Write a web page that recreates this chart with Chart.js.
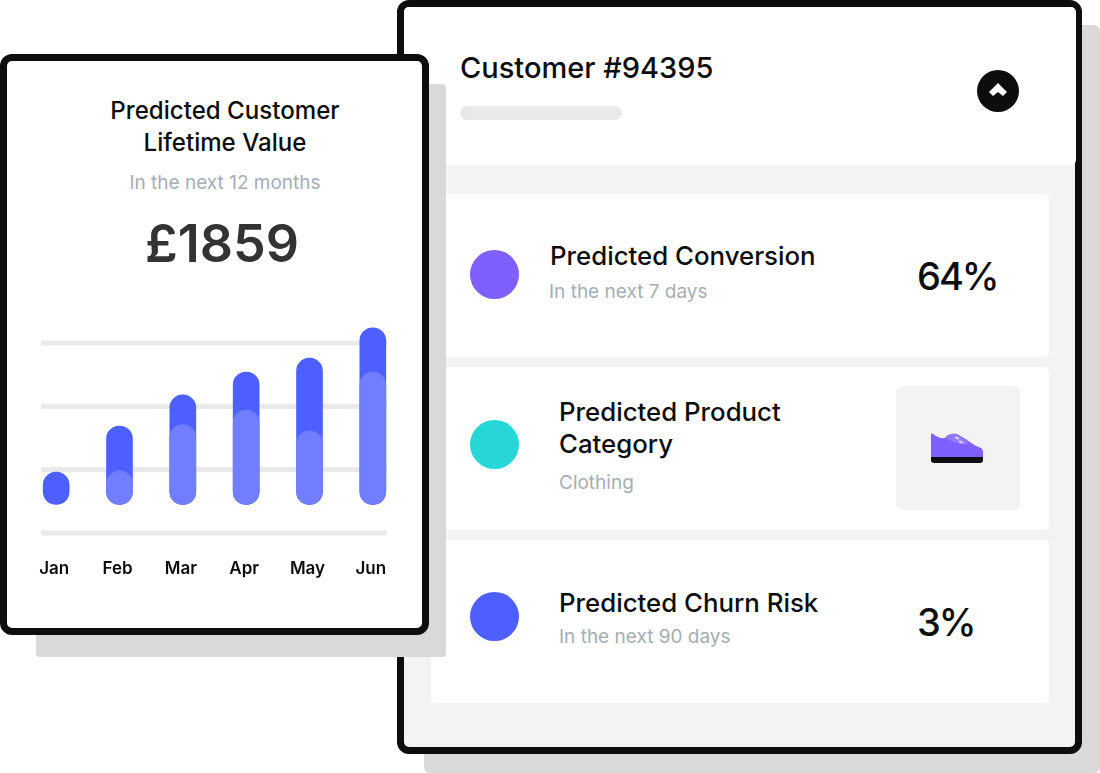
<!DOCTYPE html>
<html>
<head>
<meta charset="utf-8">
<script src="https://cdn.jsdelivr.net/npm/chart.js@4"></script>
<style>
    html, body { margin: 0; padding: 0; background: #fff; }
    body { position: relative; width: 1100px; height: 773px; overflow: hidden; font-family: Inter, "Noto Sans", sans-serif; color: #0d0d0d; }
    .box { position: absolute; box-sizing: border-box; }
    .txt { position: absolute; white-space: nowrap; line-height: 32px; height: 32px; font-weight: 500; }
    .big { font-size: 25.8px; }
    .sub { font-size: 19px; color: #a6adb5; font-weight: 400; }
    .pct { font-size: 38px; letter-spacing: -2px; }
    .dot { width: 49px; height: 49px; border-radius: 50%; left: 470px; }
    .row { left: 431px; width: 618px; height: 163px; background: #fff; border-radius: 5px; }
    #chartCanvas { position: absolute; left: 0; top: 310px; }
</style>
</head>
<body>
    <!-- right card -->
    <div class="box" style="left:424px;top:25px;width:676px;height:748px;background:#d9d9d9;border-radius:6px"></div>
    <div class="box" style="left:397px;top:0;width:685px;height:754px;background:#f3f3f3;border:7px solid #0d0d0d;border-radius:12px"></div>
    <div class="box" style="left:404px;top:7px;width:672px;height:158px;background:#fff;border-radius:5px"></div>
    <div class="box row" style="top:194px"></div>
    <div class="box row" style="top:367px"></div>
    <div class="box row" style="top:540px"></div>

    <div class="txt" style="left:460px;top:52px;font-size:29px;line-height:32px">Customer #94395</div>
    <div class="box" style="left:460px;top:106px;width:162px;height:14px;background:#e9e9e9;border-radius:7px"></div>
    <div class="box" style="left:977px;top:70px;width:42px;height:42px;background:#0d0d0d;border-radius:50%"></div>
    <svg class="box" style="left:989px;top:82px" width="18" height="16" viewBox="0 0 18 16">
        <path d="M9 1 L18 10 L14 14 L9 10 L4 14 L0 10 Z" fill="#fff"/>
    </svg>

    <div class="box dot" style="top:250px;background:#7f5fff"></div>
    <div class="txt big" style="left:550px;top:240px">Predicted Conversion</div>
    <div class="txt sub" style="left:549px;top:276px">In the next 7 days</div>
    <div class="txt pct" style="left:917px;top:260px">64%</div>

    <div class="box dot" style="top:420px;background:#27d7d7"></div>
    <div class="txt big" style="left:559px;top:396px">Predicted Product</div>
    <div class="txt big" style="left:559px;top:428px">Category</div>
    <div class="txt sub" style="left:559px;top:467px">Clothing</div>
    <div class="box" style="left:896px;top:386px;width:124px;height:124px;background:#f3f3f3;border-radius:6px"></div>
    <svg class="box" style="left:931px;top:433px" width="52" height="31" viewBox="0 0 52 31">
        <path d="M0 1 Q1 0 2 1 Q8 6 14 5 Q18 0 26 1 L36 7 Q44 13 50 15 Q52 16 52 19 L52 24 L0 24 Z" fill="#7f5fff"/>
        <path d="M14 5 Q18 0 26 1 L36 7 L38 11 Q26 12 14 5 Z" fill="#9478ff"/>
        <path d="M0 24 H52 V27 Q52 30 49 30 H3 Q0 30 0 27 Z" fill="#0d0d0d"/>
        <path d="M24 4 L28 6 M28 8 L32 10" stroke="#d6c9ff" stroke-width="2" fill="none"/>
    </svg>

    <div class="box dot" style="top:592px;background:#4d60ff"></div>
    <div class="txt big" style="left:559px;top:587px">Predicted Churn Risk</div>
    <div class="txt sub" style="left:559px;top:621px">In the next 90 days</div>
    <div class="txt pct" style="left:917px;top:606px">3%</div>

    <!-- left card -->
    <div class="box" style="left:36px;top:84px;width:410px;height:573px;background:#d9d9d9;border-radius:4px"></div>
    <div class="box" style="left:0;top:54px;width:429px;height:581px;background:#fff;border:7px solid #0d0d0d;border-radius:12px"></div>
    <div class="txt" style="left:0;width:450px;text-align:center;top:95px;font-size:24.100px">Predicted Customer</div>
    <div class="txt" style="left:0;width:450px;text-align:center;top:127px;font-size:24.100px">Lifetime Value</div>
    <div class="txt sub" style="left:0;width:450px;text-align:center;top:167px">In the next 12 months</div>
    <div class="txt" style="left:0;width:444px;text-align:center;top:228px;font-size:52px;font-weight:600;color:#333">£1859</div>
    <canvas id="chartCanvas" width="429" height="297"></canvas>

<script>
    const months = ["Jan", "Feb", "Mar", "Apr", "May", "Jun"];
    const barBase = [45, 45, 45, 45, 45, 45];
    const darkTops = [96, 169, 218, 254, 276, 324];
    const lightTops = [null, 98, 171, 194, 161, 254];
    const gridValues = [0, 100, 200, 300];

    const shortGrid = {
        id: "shortGrid",
        beforeDatasetsDraw(chart) {
            const { ctx, scales: { y } } = chart;
            ctx.save();
            ctx.fillStyle = "#e9e9e9";
            gridValues.forEach(v => ctx.fillRect(41, y.getPixelForValue(v) - 2.5, 346, 5));
            ctx.restore();
        }
    };

    const toRange = tops => tops.map((t, i) => t === null ? null : [barBase[i], t]);

    const chart = new Chart(document.getElementById("chartCanvas"), {
        type: "bar",
        data: {
            labels: months,
            datasets: [
                { data: toRange(darkTops), backgroundColor: "#4d60ff", order: 2 },
                { data: toRange(lightTops), backgroundColor: "#707eff", order: 1 }
            ].map(d => ({ ...d, barThickness: 26, borderRadius: 13, borderSkipped: false }))
        },
        options: {
            responsive: false,
            animation: false,
            layout: { padding: { left: 24.5, right: 24.5, top: 14, bottom: 0 } },
            plugins: { legend: { display: false }, tooltip: { enabled: false } },
            scales: {
                x: {
                    stacked: true,
                    grid: { display: false },
                    border: { display: false },
                    afterFit: scale => { scale.height = 74; },
                    ticks: { color: "#0d0d0d", padding: 18, labelOffset: -2, maxRotation: 0, font: { family: "Inter", size: 17, weight: "600" } }
                },
                y: { display: false, min: 0, max: 330, ticks: { stepSize: 100 } }
            }
        },
        plugins: [shortGrid]
    });
</script>
</body>
</html>
